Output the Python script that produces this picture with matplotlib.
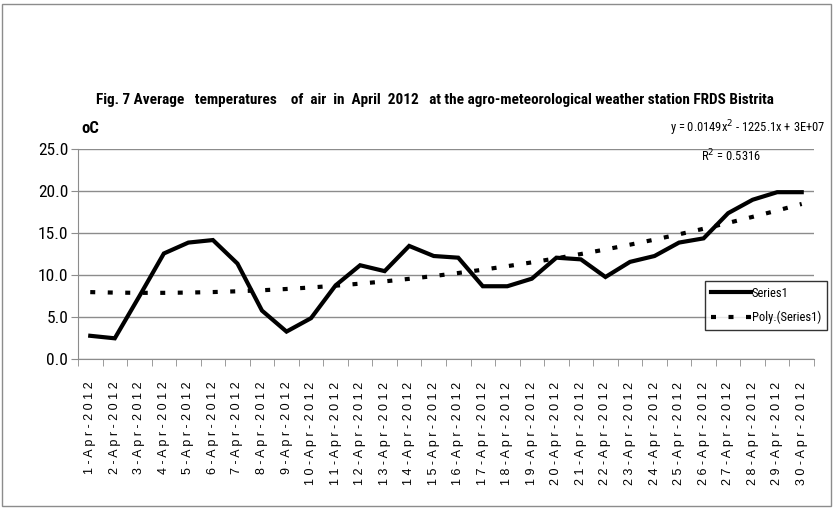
import numpy as np
import matplotlib
matplotlib.use("Agg")
import matplotlib.pyplot as plt
from matplotlib.patches import Rectangle
from matplotlib import font_manager

names = {f.name for f in font_manager.fontManager.ttflist}
narrow = [n for n in ['Liberation Sans Narrow', 'DejaVu Sans Condensed', 'Roboto Condensed',
                      'Open Sans Condensed', 'Noto Sans Condensed'] if n in names]
plt.rcParams['font.family'] = narrow + ['DejaVu Sans']

days = [f"{d}-Apr-2012" for d in range(1, 31)]
temps = [2.8, 2.5, 7.5, 12.6, 13.9, 14.2, 11.4, 5.8, 3.3, 4.9,
         8.8, 11.2, 10.5, 13.5, 12.3, 12.1, 8.7, 8.7, 9.6, 12.1,
         11.9, 9.8, 11.6, 12.3, 13.9, 14.4, 17.4, 19.0, 19.9, 19.9]
yticks = [0, 5, 10, 15, 20, 25]

x = np.arange(len(temps))
coef = np.polyfit(x, temps, 2)
trend = np.polyval(coef, x)

fig = plt.figure(figsize=(8.34, 5.08), dpi=100)
ax = fig.add_axes([0.0935, 0.2927, 0.976 - 0.0935, 0.706 - 0.2927])

ax.plot(x, temps, color="black", lw=3, solid_joinstyle="miter", label="Series1")
ax.plot(x, trend, color="black", lw=3, linestyle=(0, (1.2, 3)),
        dash_capstyle="butt", label="Poly.(Series1)")

ax.set_xlim(-0.5, len(temps) - 0.5)
ax.set_ylim(0, 25)
ax.set_yticks(yticks)
ax.set_yticklabels([f"{v:.1f}" for v in yticks], fontsize=12.5)
ax.grid(axis="y", color="#8c8c8c", lw=1)
ax.set_axisbelow(True)

ax.set_xticks(x)
ax.set_xticklabels([" ".join(d) for d in days], rotation=90, fontsize=9, va="top",
                   family=['Liberation Sans', 'DejaVu Sans'])
ax.set_xticks(np.arange(-0.5, len(temps)), minor=True)
ax.tick_params(axis="x", which="major", length=0, pad=16)
ax.tick_params(axis="x", which="minor", length=5, color="#8c8c8c")
ax.tick_params(axis="y", length=5, color="#8c8c8c", pad=2)

for s in ["top", "right"]:
    ax.spines[s].set_visible(False)
for s in ["left", "bottom"]:
    ax.spines[s].set_color("#8c8c8c")

fig.text(0.522, 0.803, "Fig. 7 Average   temperatures    of  air  in  April  2012   at the agro-meteorological weather station FRDS Bistrita",
         ha="center", va="center", fontsize=11, fontweight="bold")
fig.text(0.108, 0.748, "oC", ha="center", va="center", fontsize=12, fontweight="bold")
fig.text(0.99, 0.748, "y = 0.0149x$^2$ - 1225.1x + 3E+07", ha="right", va="center", fontsize=9)
fig.text(0.912, 0.692, "R$^2$ = 0.5316", ha="right", va="center", fontsize=9)

leg = ax.legend(loc="upper left", bbox_to_anchor=(0.852, 0.373), fontsize=9,
                frameon=True, fancybox=False, edgecolor="black", handlelength=3.2,
                handletextpad=0.1, borderpad=0.45, labelspacing=0.9, borderaxespad=0)
leg.get_frame().set_linewidth(1)

fig.patches.append(Rectangle((2 / 834, 2 / 508), 829 / 834, 502 / 508, transform=fig.transFigure,
                             fill=False, edgecolor="#8c8c8c", lw=1))

fig.savefig("out.png", dpi=100)
